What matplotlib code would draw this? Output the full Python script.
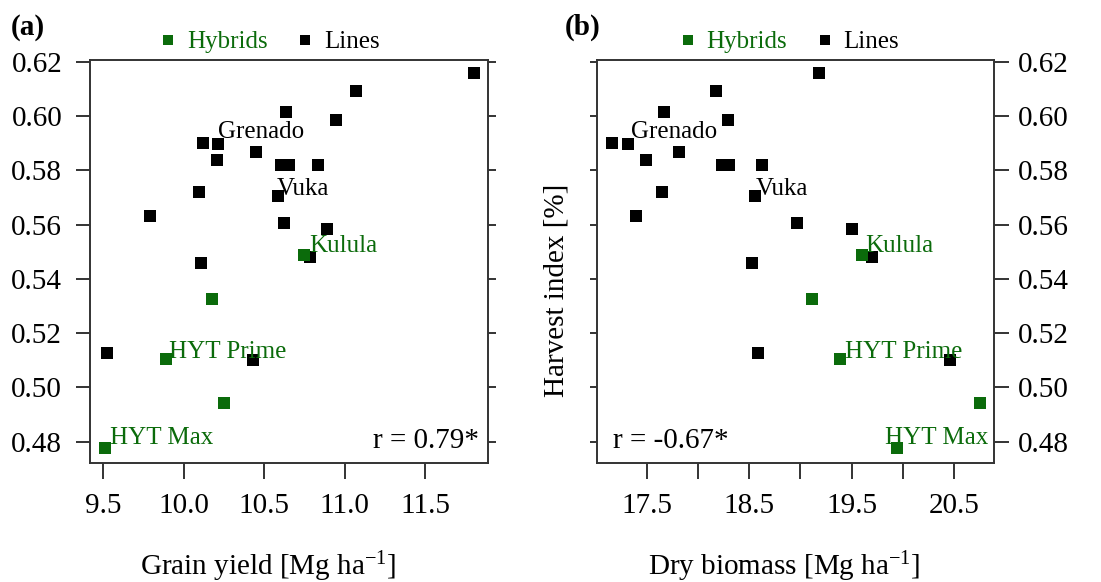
import matplotlib
matplotlib.use("Agg")
import matplotlib.pyplot as plt
from matplotlib.lines import Line2D

plt.rcParams['font.family'] = ['Liberation Serif', 'DejaVu Serif']
plt.rcParams['mathtext.fontset'] = 'custom'
plt.rcParams['mathtext.rm'] = 'Liberation Serif'
plt.rcParams['mathtext.it'] = 'Liberation Serif:italic'

# ---------------- data ----------------
# Lines (black)
line_hi = [0.6157, 0.6092, 0.6015, 0.5984, 0.5900, 0.5896, 0.5866, 0.5837,
           0.5821, 0.5821, 0.5821, 0.5720, 0.5705, 0.5631, 0.5605, 0.5585,
           0.5460, 0.5480, 0.5128, 0.5101]
line_yield = [11.803, 11.072, 10.634, 10.945, 10.122, 10.211, 10.450, 10.209,
              10.605, 10.653, 10.837, 10.093, 10.588, 9.790, 10.626, 10.891,
              10.109, 10.786, 9.525, 10.433]
line_biomass = [19.176, 18.175, 17.672, 18.296, 17.159, 17.321, 17.815, 17.490,
                18.231, 18.299, 18.621, 17.649, 18.559, 17.393, 18.965, 19.498,
                18.523, 19.696, 18.588, 20.456]
line_names = ["", "", "", "", "", "Grenado", "", "", "", "", "", "", "Vuka",
              "", "", "", "", "", "", ""]

# Hybrids (green)
hyb_hi = [0.5488, 0.5327, 0.5104, 0.4944, 0.4776]
hyb_yield = [10.750, 10.178, 9.888, 10.249, 9.511]
hyb_biomass = [19.601, 19.111, 19.384, 20.749, 19.937]
hyb_names = ["Kulula", "", "HYT Prime", "", "HYT Max"]

y_ticks = [0.48, 0.50, 0.52, 0.54, 0.56, 0.58, 0.60, 0.62]
xa_ticks = [9.5, 10.0, 10.5, 11.0, 11.5]
xa_labels = ["9.5", "10.0", "10.5", "11.0", "11.5"]
xb_ticks = [17.5, 18.0, 18.5, 19.0, 19.5, 20.0, 20.5]
xb_labels = ["17.5", "", "18.5", "", "19.5", "", "20.5"]

r_a = "r = 0.79*"
r_b = "r = -0.67*"

GREEN = "#0b6b0b"
AX = "#333333"

W, H = 1101, 582
fig = plt.figure(figsize=(W / 100, H / 100), dpi=100)


def px_axes(l, r, t, b):
    return fig.add_axes([l / W, 1 - b / H, (r - l) / W, (b - t) / H])


axA = px_axes(90, 488, 60, 462.7)
axB = px_axes(596.7, 994.3, 60, 462.7)

TICK_FS = 21
LAB_FS = 18

for ax in (axA, axB):
    for s in ax.spines.values():
        s.set_color(AX)
        s.set_linewidth(1.4)
    ax.set_ylim(0.4723, 0.6206)
    ax.set_yticks(y_ticks)
    ax.set_yticklabels([f"{v:.2f}" for v in y_ticks])
    ax.tick_params(colors=AX, labelcolor='black', width=1.4, labelsize=TICK_FS)

axA.set_xlim(9.417, 11.892)
axA.set_xticks(xa_ticks)
axA.set_xticklabels(xa_labels)
axA.tick_params(axis='x', length=11.5, pad=10)
axA.tick_params(axis='y', which='both', left=True, right=True, labelleft=True,
                labelright=False)
axA.tick_params(axis='y', length=10, pad=10)
# shorter right ticks for A
for t in axA.yaxis.get_major_ticks():
    t.tick2line.set_markersize(5.8)

axB.set_xlim(17.013, 20.89)
axB.set_xticks(xb_ticks)
axB.set_xticklabels(xb_labels)
axB.tick_params(axis='x', length=11.5, pad=10)
axB.tick_params(axis='y', left=True, right=True, labelleft=False,
                labelright=True, length=10.8, pad=6.5)
for t in axB.yaxis.get_major_ticks():
    t.tick1line.set_markersize(5)

MS = 8.6


def draw(ax, lx, gx, label_offsets):
    ax.plot(lx, line_hi, 's', color='black', ms=MS, mew=0, linestyle='none',
            clip_on=False)
    ax.plot(gx, hyb_hi, 's', color=GREEN, ms=MS, mew=0, linestyle='none',
            clip_on=False)
    for x, y, n in zip(lx, line_hi, line_names):
        if n:
            dx, dy = label_offsets[n]
            ax.annotate(n, (x, y), xytext=(dx, dy), textcoords='offset pixels',
                        ha='left', va='baseline', fontsize=LAB_FS, color='black')
    for x, y, n in zip(gx, hyb_hi, hyb_names):
        if n:
            dx, dy = label_offsets[n]
            ax.annotate(n, (x, y), xytext=(dx, dy), textcoords='offset pixels',
                        ha='left', va='baseline', fontsize=LAB_FS, color=GREEN)


draw(axA, line_yield, hyb_yield,
     {"Grenado": (0.5, 6), "Vuka": (-1.5, 1), "Kulula": (5, 3),
      "HYT Prime": (3.5, 1), "HYT Max": (5, 4)})
draw(axB, line_biomass, hyb_biomass,
     {"Grenado": (2.7, 6), "Vuka": (0.7, 1), "Kulula": (2.7, 3),
      "HYT Prime": (5, 1), "HYT Max": (-11.7, 4)})

axA.text(0.978, 0.037, r_a, transform=axA.transAxes, ha='right', va='baseline',
         fontsize=TICK_FS)
axB.text(0.040, 0.037, r_b, transform=axB.transAxes, ha='left', va='baseline',
         fontsize=TICK_FS)

# legends
handles = [Line2D([], [], marker='s', color=GREEN, ms=7.5, mew=0, ls='none'),
           Line2D([], [], marker='s', color='black', ms=7.5, mew=0, ls='none')]
for ax, cx in ((axA, 270), (axB, 789.5)):
    leg = ax.legend(handles, ["Hybrids", "Lines"], ncol=2, frameon=False,
                    loc='center', bbox_to_anchor=(cx / W, 1 - 42 / H),
                    bbox_transform=fig.transFigure, fontsize=LAB_FS,
                    handlelength=0.6, handletextpad=0.45, columnspacing=1.2,
                    borderpad=0, borderaxespad=0)
    leg.get_texts()[0].set_color(GREEN)

# axis labels
fig.text(267.7 / W, 1 - 575 / H, "Grain yield [Mg ha$^{-1}$]", ha='center',
         va='baseline', fontsize=TICK_FS)
fig.text(784 / W, 1 - 575 / H, "Dry biomass [Mg ha$^{-1}$]", ha='center',
         va='baseline', fontsize=TICK_FS)
fig.text(556 / W, 1 - 290.5 / H, "Harvest index [%]", rotation=90, ha='center',
         va='center', fontsize=TICK_FS)

fig.text(11 / W, 1 - 35 / H, "(a)", ha='left', va='baseline', fontsize=TICK_FS,
         fontweight='bold')
fig.text(565 / W, 1 - 35 / H, "(b)", ha='left', va='baseline', fontsize=TICK_FS,
         fontweight='bold')

fig.savefig("out.png", dpi=100)
